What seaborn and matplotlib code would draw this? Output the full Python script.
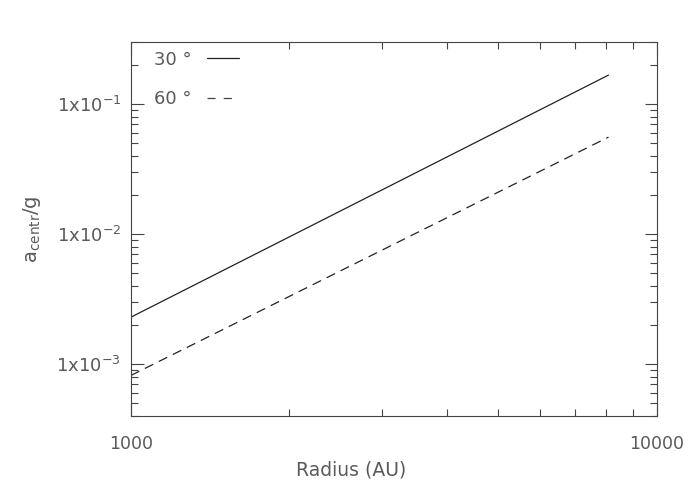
import numpy as np
import pandas as pd
import seaborn as sns
import matplotlib
matplotlib.use('Agg')
import matplotlib.pyplot as plt
from matplotlib.lines import Line2D
from matplotlib.ticker import FixedLocator, FuncFormatter, NullFormatter

# values (log-log straight lines)
radius = [1000, 8100]
acc_30 = [2.3e-3, 0.167]
acc_60 = [8.2e-4, 0.0557]
labels = ['30 °', '60 °']

df = pd.DataFrame({
    'Radius': radius + radius,
    'acc': acc_30 + acc_60,
    'angle': [labels[0]] * 2 + [labels[1]] * 2,
})

sns.set_style('ticks')
plt.rcParams['font.family'] = ['DejaVu Sans']
txt = '#5a5a5a'

fig = plt.figure(figsize=(7, 5), dpi=100)
ax = fig.add_axes([0.187, 0.168, 0.751, 0.748])

sns.lineplot(data=df, x='Radius', y='acc', style='angle', ax=ax,
             color='#222222', linewidth=0.9,
             dashes={labels[0]: '', labels[1]: (7.5, 5)}, legend=False)

ax.set_xscale('log')
ax.set_yscale('log')
ax.set_xlim(1000, 10000)
ax.set_ylim(4e-4, 0.3)

ax.xaxis.set_major_locator(FixedLocator([1000, 10000]))
ax.xaxis.set_minor_locator(FixedLocator([2000, 3000, 4000, 5000, 6000, 7000, 8000, 9000]))
ax.xaxis.set_major_formatter(FuncFormatter(lambda v, p: '%d' % v))
ax.xaxis.set_minor_formatter(NullFormatter())

ax.yaxis.set_major_locator(FixedLocator([1e-3, 1e-2, 1e-1]))
minors = [m * 10.0 ** e for e in (-4, -3, -2, -1) for m in range(2, 10)]
ax.yaxis.set_minor_locator(FixedLocator(minors))
ax.yaxis.set_major_formatter(FuncFormatter(
    lambda v, p: '1x10$^{%d}$' % int(round(np.log10(v)))))
ax.yaxis.set_minor_formatter(NullFormatter())

ax.tick_params(which='both', direction='in', top=True, right=True,
               colors='#444444', labelcolor=txt)
ax.tick_params(which='major', length=9, width=0.8)
ax.tick_params(which='minor', length=5, width=0.8)
ax.tick_params(axis='x', labelsize=12.5, pad=14)
ax.tick_params(axis='y', labelsize=13, pad=7)
for s in ax.spines.values():
    s.set_color('#444444')
    s.set_linewidth(0.8)

ax.set_xlabel('Radius (AU)', color=txt, fontsize=13.5, labelpad=5, x=0.418)
ax.set_ylabel('a$_{\\mathrm{centr}}$/g', color=txt, fontsize=14, labelpad=10)

handles = [Line2D([], [], color='#222222', lw=0.9),
           Line2D([], [], color='#444444', lw=0.9, dashes=(6.5, 6.5))]
leg = ax.legend(handles, labels, loc='upper left', frameon=False,
                bbox_to_anchor=(0.019, 1.011),
                markerfirst=False, fontsize=13, handlelength=1.77,
                handletextpad=0.9, labelspacing=1.2,
                borderaxespad=0.3, borderpad=0.4)
for t in leg.get_texts():
    t.set_color(txt)

fig.savefig('out.png', dpi=100)
